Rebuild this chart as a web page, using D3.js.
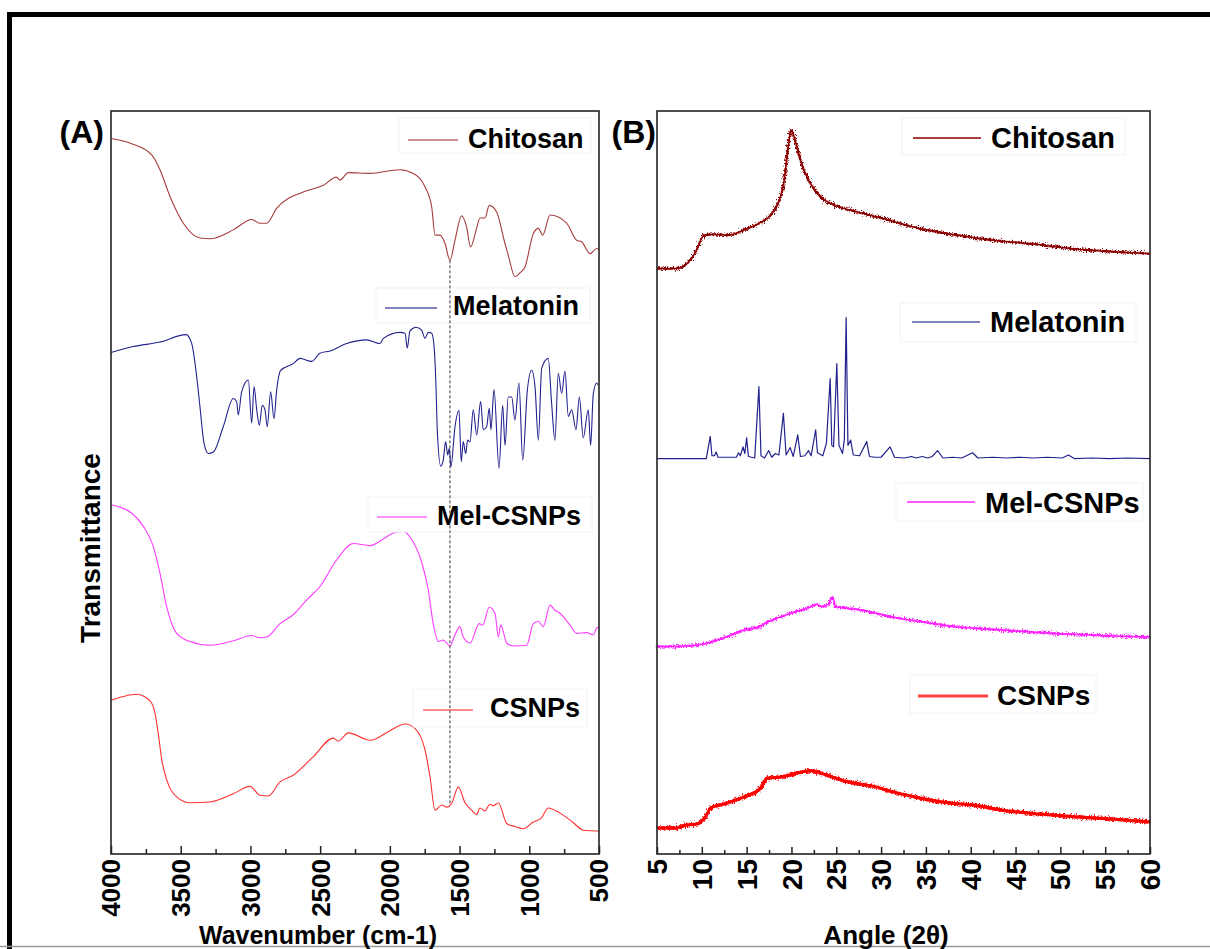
<!DOCTYPE html>
<html>
<head>
<meta charset="utf-8">
<script src="https://cdn.jsdelivr.net/npm/d3@7"></script>
<style>
  body { margin: 0; background: #fff; }
  text { font-family: "Liberation Sans", Arial, sans-serif; font-weight: bold; fill: #000; }
</style>
</head>
<body>
<script>
// FTIR spectra, [wavenumber cm-1, transmittance a.u. (offset stacked)]
const ftirChitosan = [[4000,96.3],[3851,95.6],[3708,94.1],[3649,92.1],[3577,88.5],[3481,84.9],[3362,82.9],[3290,82.8],[3123,84.0],[2991,85.4],[2932,84.9],[2884,84.9],[2812,86.9],[2621,89.1],[2477,90.0],[2382,91.1],[2358,90.7],[2298,91.7],[2143,91.6],[1927,92.1],[1832,91.6],[1748,89.8],[1700,87.1],[1676,83.3],[1640,83.3],[1605,82.2],[1569,79.9],[1533,82.6],[1485,85.9],[1450,84.4],[1421,81.7],[1378,84.2],[1354,85.6],[1318,85.6],[1287,87.3],[1234,86.4],[1175,82.2],[1151,80.6],[1103,77.7],[1067,78.2],[1031,79.0],[971,83.5],[935,84.2],[904,83.3],[851,86.0],[732,84.9],[660,82.6],[625,82.4],[564,80.8],[517,81.5],[500,81.3]]
const ftirMelatonin = [[4000,67.5],[3840,68.3],[3649,68.9],[3462,69.9],[3421,68.7],[3385,64.2],[3362,60.2],[3333,55.3],[3302,53.9],[3266,54.1],[3195,57.5],[3123,61.3],[3099,60.9],[3087,59.1],[3063,62.2],[3015,63.8],[2991,58.0],[2974,62.9],[2955,59.8],[2936,57.7],[2915,60.4],[2896,59.8],[2879,57.5],[2855,62.2],[2831,58.6],[2812,62.4],[2783,65.1],[2693,66.0],[2644,66.7],[2561,66.3],[2501,67.4],[2429,67.7],[2310,68.7],[2166,69.2],[2071,68.7],[2047,69.4],[1927,70.2],[1891,70.1],[1875,68.1],[1856,70.4],[1813,70.9],[1772,70.5],[1748,69.4],[1724,70.2],[1700,70.1],[1683,68.3],[1669,62.9],[1660,57.1],[1635,52.2],[1617,53.0],[1600,55.5],[1585,53.7],[1574,54.6],[1562,52.1],[1533,57.5],[1504,59.7],[1488,52.8],[1474,55.5],[1456,53.9],[1442,55.7],[1425,55.5],[1402,59.8],[1377,56.4],[1349,60.9],[1330,57.1],[1306,57.5],[1287,60.0],[1275,57.1],[1253,62.5],[1217,51.9],[1191,60.4],[1174,55.0],[1151,61.5],[1126,61.5],[1103,58.4],[1074,63.4],[1047,53.0],[1014,62.4],[983,65.1],[959,62.9],[935,55.7],[911,65.4],[864,66.7],[840,60.7],[816,55.7],[792,64.7],[768,62.0],[744,65.0],[720,58.9],[696,59.8],[665,57.1],[641,61.5],[613,56.0],[577,59.8],[560,55.0],[541,61.9],[517,63.4],[505,63.1]]
const ftirMelCSNPs = [[4000,47.0],[3852,45.9],[3768,44.1],[3697,41.4],[3649,37.8],[3601,33.3],[3529,29.7],[3433,28.6],[3290,28.1],[3123,28.7],[2991,29.4],[2931,29.1],[2883,29.2],[2788,31.0],[2693,32.2],[2596,34.2],[2501,36.0],[2381,39.6],[2262,41.8],[2142,41.5],[2047,42.4],[1975,43.2],[1904,43.4],[1843,42.3],[1772,39.3],[1724,35.5],[1689,31.0],[1652,28.6],[1617,28.8],[1569,28.0],[1533,29.5],[1497,30.6],[1474,29.2],[1425,28.4],[1359,31.0],[1334,30.8],[1287,33.2],[1246,32.4],[1222,29.2],[1205,30.8],[1162,28.4],[1115,28.0],[1019,28.1],[971,31.0],[935,31.3],[900,30.6],[851,33.5],[816,32.8],[780,32.4],[708,30.8],[660,29.7],[588,29.8],[541,29.5],[512,30.5],[500,30.4]]
const ftirCSNPs = [[4000,20.7],[3912,21.2],[3816,21.5],[3720,20.6],[3684,18.9],[3661,16.2],[3636,12.7],[3601,10.0],[3529,7.7],[3433,6.9],[3290,7.0],[3123,8.1],[3003,9.1],[2931,7.9],[2872,7.8],[2788,9.7],[2693,10.6],[2549,13.1],[2406,15.6],[2370,15.2],[2298,16.3],[2142,15.3],[1999,16.6],[1891,17.5],[1820,16.9],[1748,14.0],[1712,10.4],[1676,5.9],[1628,6.6],[1592,6.3],[1557,6.8],[1509,9.0],[1461,6.9],[1413,5.9],[1378,5.3],[1354,6.2],[1318,5.8],[1282,6.7],[1258,6.5],[1222,6.9],[1162,4.1],[1103,3.7],[1043,3.4],[971,4.3],[911,4.9],[864,6.2],[780,5.5],[684,4.2],[612,3.2],[512,3.1],[500,3.1]]

// XRD patterns, [2 theta deg, intensity a.u. (offset stacked)]
const xrdChitosan = [[5,78.8],[7.1,78.8],[8.2,79.3],[9.2,80.8],[10.3,83.3],[11.3,83.4],[13.0,83.3],[14.7,84.0],[16.4,84.9],[17.7,86.0],[18.5,87.6],[19.2,90.7],[19.6,94.8],[20.0,97.4],[20.4,96.1],[21.1,93.0],[21.9,90.7],[23.2,88.5],[24.9,87.3],[27.4,86.4],[30.0,85.6],[34.2,84.2],[38.4,83.3],[42.6,82.6],[46.9,82.1],[51.1,81.5],[55.3,81.1],[60,80.8]]
const xrdMelatonin = [[5,53.2],[10.5,53.2],[10.94,56.2],[11.13,53.6],[11.4,53.6],[11.6,54.1],[11.8,53.4],[13.85,53.4],[14.1,54.0],[14.3,53.6],[14.6,54.8],[14.8,53.9],[15.0,56.0],[15.2,53.5],[15.9,53.3],[16.37,62.9],[16.6,53.6],[17.0,53.3],[17.46,54.3],[17.8,53.4],[18.2,53.9],[18.6,53.7],[19.1,59.3],[19.4,53.7],[19.86,54.7],[20.2,53.5],[20.7,56.4],[21.0,53.5],[21.5,53.6],[21.9,54.3],[22.2,53.6],[22.7,57.1],[22.9,54.0],[23.5,53.6],[23.9,55.3],[24.32,64.0],[24.5,55.0],[24.7,54.8],[25.06,66.0],[25.3,55.0],[25.7,53.9],[25.9,55.8],[26.1,72.2],[26.3,55.0],[26.6,55.7],[26.9,53.7],[27.6,53.6],[28.4,55.5],[28.7,53.5],[29.3,53.4],[30.0,53.4],[31.0,54.8],[31.5,53.4],[32.6,53.3],[33.4,53.5],[33.9,53.3],[34.6,53.5],[35.2,53.3],[35.7,53.5],[36.3,54.3],[36.9,53.3],[38.0,53.4],[39.0,53.3],[40.2,54.0],[40.8,53.3],[42.5,53.4],[44.0,53.3],[45.5,53.4],[47.0,53.3],[48.5,53.4],[50.2,53.3],[50.9,53.7],[51.6,53.2],[53.5,53.3],[55.5,53.2],[57.5,53.3],[60,53.2]]
const xrdMelCSNPs = [[5,27.9],[8.4,28.0],[10.35,28.3],[12.7,29.2],[15.2,30.3],[16.0,30.4],[17.3,31.2],[19.7,32.3],[22.0,33.2],[22.8,33.6],[23.3,33.3],[24.1,33.6],[24.6,34.6],[24.9,33.3],[26.0,33.1],[27.4,32.9],[29.0,32.5],[31.7,31.8],[34.8,31.2],[37.5,30.7],[41.4,30.3],[45.3,30.0],[49.1,29.7],[53.0,29.5],[56.9,29.3],[60,29.2]]
const xrdCSNPs = [[5,3.5],[7.1,3.5],[8.3,3.9],[9.6,4.1],[10.4,5.0],[11.0,6.2],[12.4,6.7],[14.9,7.8],[16.5,8.8],[17.3,10.2],[19.0,10.4],[20.6,10.9],[22.2,11.2],[23.9,10.6],[26.3,9.7],[29.2,9.1],[31.2,8.4],[33.7,7.7],[35.3,7.3],[38.2,6.8],[40.2,6.6],[43.5,5.9],[47.5,5.4],[51.6,5.0],[55.7,4.7],[60,4.3]]

// Axis ticks
const wavenumberTicks = [4000, 3500, 3000, 2500, 2000, 1500, 1000, 500]
const wavenumberMinor = [3750, 3250, 2750, 2250, 1750, 1250, 750]
const angleTicks = [5, 10, 15, 20, 25, 30, 35, 40, 45, 50, 55, 60]
const angleMinor = [7.5, 12.5, 17.5, 22.5, 27.5, 32.5, 37.5, 42.5, 47.5, 52.5, 57.5]

const seriesNames = ['Chitosan', 'Melatonin', 'Mel-CSNPs', 'CSNPs']

// dashed guide at the amide band, [wavenumber, top value, bottom value]
const guideLine = [1569, 79.9, 6.8]

const w = 1210
const h = 949

const svg = d3.select('body')
  .append('svg')
  .attr('width', w)
  .attr('height', h)

// rough detector-noise look for the XRD traces (rendering only)
const defs = svg.append('defs')
const noise = defs.append('filter')
  .attr('id', 'noisy')
  .attr('x', '-2%').attr('y', '-40%')
  .attr('width', '104%').attr('height', '180%')
noise.append('feTurbulence')
  .attr('type', 'fractalNoise')
  .attr('baseFrequency', '0.9 0.6')
  .attr('numOctaves', 2)
  .attr('seed', 3)
  .attr('result', 'turb')
noise.append('feDisplacementMap')
  .attr('in', 'SourceGraphic')
  .attr('in2', 'turb')
  .attr('scale', 7)
  .attr('xChannelSelector', 'R')
  .attr('yChannelSelector', 'G')

svg.append('rect').attr('width', w).attr('height', h).attr('fill', '#fff')

// outer frame
svg.append('path')
  .attr('d', 'M9.5,949 V14.5 H1210')
  .attr('fill', 'none')
  .attr('stroke', '#000')
  .attr('stroke-width', 5)
svg.append('line')
  .attr('x1', 0).attr('x2', w).attr('y1', 946.5).attr('y2', 946.5)
  .attr('stroke', '#9a9a9a').attr('stroke-width', 1.5)

const plotTop = 111
const plotBottom = 854

// Scales
const xA = d3.scaleLinear().domain([4000, 500]).range([111, 599])
const xB = d3.scaleLinear().domain([5, 60]).range([657, 1150])
const y = d3.scaleLinear().domain([0, 100]).range([plotBottom, plotTop])

function drawPanel(x, series, legends, opts) {
  const g = svg.append('g')

  g.append('rect')
    .attr('x', x.range()[0])
    .attr('y', plotTop)
    .attr('width', x.range()[1] - x.range()[0])
    .attr('height', plotBottom - plotTop)
    .attr('fill', '#fff')

  series.forEach(function (s) {
    const line = d3.line()
      .x(d => x(d[0]))
      .y(d => y(d[1]))
      .curve(s.curve)
    g.append('path')
      .datum(s.data)
      .attr('d', line)
      .attr('fill', 'none')
      .attr('stroke', s.color)
      .attr('stroke-width', s.width)
      .attr('stroke-linejoin', 'round')
    if (s.noisy) {
      g.append('path')
        .datum(s.data)
        .attr('d', line)
        .attr('fill', 'none')
        .attr('stroke', s.color)
        .attr('stroke-width', s.noisy)
        .attr('filter', 'url(#noisy)')
    }
  })

  // Legends
  legends.forEach(function (l, i) {
    const s = series[i]
    g.append('rect')
      .attr('x', l.box[0]).attr('y', l.box[1])
      .attr('width', l.box[2] - l.box[0]).attr('height', l.box[3] - l.box[1])
      .attr('fill', '#fff')
      .attr('stroke', '#f1f1f1')
    g.append('line')
      .attr('x1', l.line[0]).attr('x2', l.line[1])
      .attr('y1', l.ly).attr('y2', l.ly)
      .attr('stroke', s.color)
      .attr('stroke-opacity', 0.75)
      .attr('stroke-width', s.legendWidth)
    g.append('text')
      .attr('x', l.tx)
      .attr('y', l.ty)
      .attr('dominant-baseline', 'central')
      .style('font-size', l.size + 'px')
      .text(seriesNames[i])
  })

  if (opts.guide) {
    g.append('line')
      .attr('x1', x(guideLine[0])).attr('x2', x(guideLine[0]))
      .attr('y1', y(guideLine[1])).attr('y2', y(guideLine[2]))
      .attr('stroke', '#333')
      .attr('stroke-width', 1)
      .attr('stroke-dasharray', '3,2')
  }

  // ticks (inside)
  const major = d3.axisBottom(x).tickValues(opts.ticks).tickSize(-opts.major).tickFormat('')
  const minor = d3.axisBottom(x).tickValues(opts.minor).tickSize(-opts.minorLen).tickFormat('')
  g.append('g').attr('transform', 'translate(0,' + plotBottom + ')').call(major)
  g.append('g').attr('transform', 'translate(0,' + plotBottom + ')').call(minor)
  g.selectAll('.domain').remove()
  g.selectAll('.tick line').attr('stroke', '#222').attr('stroke-width', 1.5)

  g.append('rect')
    .attr('x', x.range()[0])
    .attr('y', plotTop)
    .attr('width', x.range()[1] - x.range()[0])
    .attr('height', plotBottom - plotTop)
    .attr('fill', 'none')
    .attr('stroke', '#222')
    .attr('stroke-width', 1.6)

  // rotated tick labels
  g.selectAll('.ticklabel')
    .data(opts.ticks)
    .enter()
    .append('text')
    .attr('class', 'ticklabel')
    .attr('transform', d => 'translate(' + x(d) + ',' + (plotBottom + 5) + ') rotate(-90)')
    .attr('text-anchor', 'end')
    .attr('dy', '0.36em')
    .style('font-size', opts.tickSize + 'px')
    .text(d => d)

  g.append('text')
    .attr('x', opts.titleX)
    .attr('y', 944)
    .attr('text-anchor', 'middle')
    .style('font-size', opts.titleSize + 'px')
    .text(opts.title)

  g.append('text')
    .attr('x', opts.tagX)
    .attr('y', 143)
    .attr('text-anchor', 'end')
    .style('font-size', '32px')
    .text(opts.tag)
}

drawPanel(xA, [
  { data: ftirChitosan, color: '#a83c3c', width: 1.1, legendWidth: 1.3, curve: d3.curveMonotoneX },
  { data: ftirMelatonin, color: '#22228e', width: 1.1, legendWidth: 1.3, curve: d3.curveMonotoneX },
  { data: ftirMelCSNPs, color: '#ff3cff', width: 1.1, legendWidth: 1.3, curve: d3.curveMonotoneX },
  { data: ftirCSNPs, color: '#ff3030', width: 1.1, legendWidth: 1.3, curve: d3.curveMonotoneX }
], [
  { box: [399, 118, 591, 153], line: [408, 458], ly: 140, tx: 468, ty: 139, size: 27 },
  { box: [376, 288, 590, 323], line: [385, 437], ly: 308, tx: 453, ty: 306, size: 27 },
  { box: [368, 497, 592, 532], line: [377, 427], ly: 517, tx: 437, ty: 516, size: 27 },
  { box: [413, 689, 587, 727], line: [423, 473], ly: 710, tx: 490, ty: 708, size: 27 }
], {
  guide: true, ticks: wavenumberTicks, minor: wavenumberMinor, major: 8, minorLen: 5,
  tickSize: 26, title: 'Wavenumber (cm-1)', titleX: 318, titleSize: 25, tag: '(A)', tagX: 104
})

drawPanel(xB, [
  { data: xrdChitosan, color: '#8b0000', width: 1.6, legendWidth: 2, curve: d3.curveMonotoneX, noisy: 2.4 },
  { data: xrdMelatonin, color: '#22228e', width: 1.2, legendWidth: 1.5, curve: d3.curveLinear },
  { data: xrdMelCSNPs, color: '#ff22ff', width: 1.5, legendWidth: 2, curve: d3.curveMonotoneX, noisy: 2.2 },
  { data: xrdCSNPs, color: '#ff0000', width: 3, legendWidth: 3, curve: d3.curveMonotoneX, noisy: 3.4 }
], [
  { box: [902, 118, 1125, 155], line: [913, 981], ly: 138, tx: 991, ty: 138, size: 29 },
  { box: [900, 303, 1136, 342], line: [912, 980], ly: 322, tx: 990, ty: 322, size: 29 },
  { box: [896, 483, 1143, 521], line: [907, 975], ly: 502, tx: 985, ty: 503, size: 29 },
  { box: [910, 675, 1096, 713], line: [918, 988], ly: 696, tx: 997, ty: 695, size: 28 }
], {
  guide: false, ticks: angleTicks, minor: angleMinor, major: 7, minorLen: 4,
  tickSize: 28, title: 'Angle (2\u03b8)', titleX: 886, titleSize: 26, tag: '(B)', tagX: 656
})

// y axis title
svg.append('text')
  .attr('transform', 'translate(90,548) rotate(-90)')
  .attr('text-anchor', 'middle')
  .attr('dominant-baseline', 'central')
  .style('font-size', '28px')
  .text('Transmittance')
</script>
</body>
</html>
